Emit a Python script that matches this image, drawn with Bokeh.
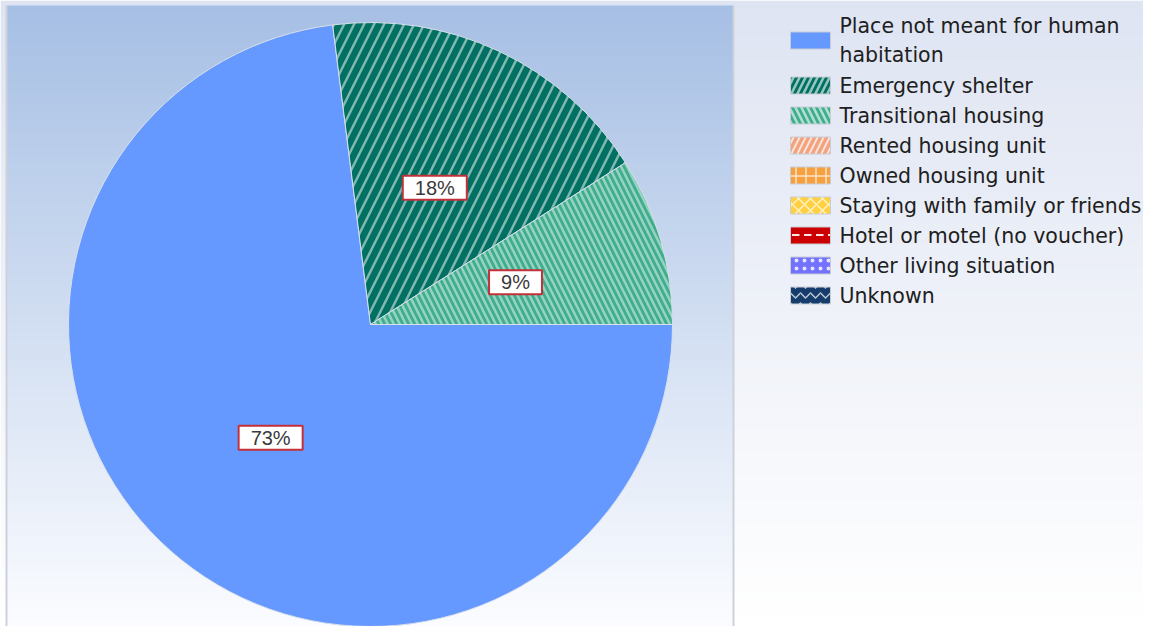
import numpy as np
from bokeh.plotting import figure
from bokeh.models import Range1d, Label, ColumnDataSource
from bokeh.embed import file_html
from bokeh.resources import INLINE
from bokeh.core.properties import value

# ---------------- data ----------------
categories = [
    "Place not meant for human\nhabitation",
    "Emergency shelter",
    "Transitional housing",
    "Rented housing unit",
    "Owned housing unit",
    "Staying with family or friends",
    "Hotel or motel (no voucher)",
    "Other living situation",
    "Unknown",
]
percents = [73, 18, 9, 0, 0, 0, 0, 0, 0]

# ---------------- styles ----------------
fill_colors = ["#6699ff", "#007062", "#40ae8e", "#f2a27e", "#f7a040",
               "#ffd040", "#cc0000", "#7272ff", "#163c6c"]
hatch_patterns = ["blank", "right_diagonal_line", "left_diagonal_line",
                  "right_diagonal_line", "cross", "diagonal_cross",
                  "horizontal_dash", "dot", "horizontal_wave"]
hatch_scales = [12, 20, 12, 12, 10, 12, 12, 8, 10]
hatch_weights = [1, 2.5, 2.5, 2, 1.5, 1.5, 2, 1.5, 1.5]
hatch_alphas = [0, 0.5, 0.45, 0.7, 0.7, 0.7, 0.9, 0.8, 0.7]

W, H = 1143, 626
FONT = "DejaVu Sans"

p = figure(width=W, height=H, output_backend="svg", toolbar_location=None,
           tools="", x_range=Range1d(0, W), y_range=Range1d(0, H),
           min_border=0, outline_line_color=None)
p.axis.visible = False
p.grid.visible = False
p.background_fill_color = "white"
p.border_fill_color = "white"


def ry(y_ref):
    # screen y (from top) -> data y
    return H - y_ref


def gradient(top, bottom, n):
    t = np.linspace(0, 1, n)[:, None]  # row 0 = bottom
    top = np.array(top, float)
    bottom = np.array(bottom, float)
    rgb = bottom * (1 - t) + top * t
    arr = np.zeros((n, 1, 4), dtype=np.uint8)
    arr[:, 0, :3] = rgb.round().astype(np.uint8)
    arr[:, 0, 3] = 255
    return arr.view(np.uint32).reshape(n, 1)


# outer (legend side) background
p.image_rgba(image=[gradient((222, 228, 242), (255, 255, 255), 300)],
             x=0, y=0, dw=W, dh=H)
# plot area background
pa_left, pa_right, pa_top = 6, 733, 5
p.image_rgba(image=[gradient((166, 191, 228), (251, 252, 255), 300)],
             x=pa_left, y=0, dw=pa_right - pa_left, dh=ry(pa_top))
p.segment(x0=[pa_right, pa_left], y0=[0, 0], x1=[pa_right, pa_left],
          y1=[ry(pa_top), ry(pa_top)], line_color="#cdd2da", line_width=2)

# ---------------- pie ----------------
cx, cy, R = 370, ry(324), 302
vals = np.array(percents, float)
frac = vals / vals.sum()
cum_end = np.cumsum(frac) * 2 * np.pi
cum_start = cum_end - frac * 2 * np.pi
# clockwise from 3 o'clock
start_angles = -cum_end
end_angles = -cum_start
mask = vals > 0

src = ColumnDataSource(dict(
    start=start_angles[mask], end=end_angles[mask],
    color=[c for c, m in zip(fill_colors, mask) if m],
    hatch=[h for h, m in zip(hatch_patterns, mask) if m],
    hscale=[h for h, m in zip(hatch_scales, mask) if m],
    hweight=[h for h, m in zip(hatch_weights, mask) if m],
    halpha=[h for h, m in zip(hatch_alphas, mask) if m],
))
p.wedge(x=cx, y=cy, radius=R, start_angle="start", end_angle="end",
        fill_color="color", line_color="#d8e0ea", line_width=1,
        hatch_pattern="hatch", hatch_color="white", hatch_scale="hscale",
        hatch_weight="hweight", hatch_alpha="halpha", source=src)

for pct, s, e, m in zip(percents, start_angles, end_angles, mask):
    if not m:
        continue
    mid = (s + e) / 2
    lx = cx + 0.5 * R * np.cos(mid)
    ly = cy + 0.5 * R * np.sin(mid)
    p.add_layout(Label(x=lx, y=ly, text=f"{pct}%", text_align="center",
                       text_baseline="middle", text_font="Liberation Sans",
                       text_font_size="20px", text_color="#3a3a3a",
                       background_fill_color="white",
                       border_line_color="#c4303a", border_line_width=2,
                       padding=dict(left=12, right=12, top=1, bottom=1)))

# ---------------- legend ----------------
sw_x, txt_x = 810, 839
centers = []
cur = 10
for c in categories:
    h = 30 * (c.count("\n") + 1)
    centers.append(ry(cur + h / 2))
    cur += h

leg = ColumnDataSource(dict(
    y=centers, label=categories, color=fill_colors, hatch=hatch_patterns,
    hscale=[min(s, 12) for s in hatch_scales], hweight=hatch_weights,
    halpha=[max(a, 0.6) if a > 0 else 0 for a in hatch_alphas],
))
p.rect(x=sw_x, y="y", width=40, height=17, fill_color="color",
       line_color="#c8ccd4", line_width=1, hatch_pattern="hatch",
       hatch_color="white", hatch_scale="hscale", hatch_weight="hweight",
       hatch_alpha="halpha", source=leg)
p.text(x=txt_x, y="y", text="label", text_font=value(FONT),
       text_font_size="20.5px", text_color="#202020", text_align="left",
       text_baseline="middle", text_line_height=1.2, source=leg)

open("out.html", "w").write(file_html(p, INLINE))
